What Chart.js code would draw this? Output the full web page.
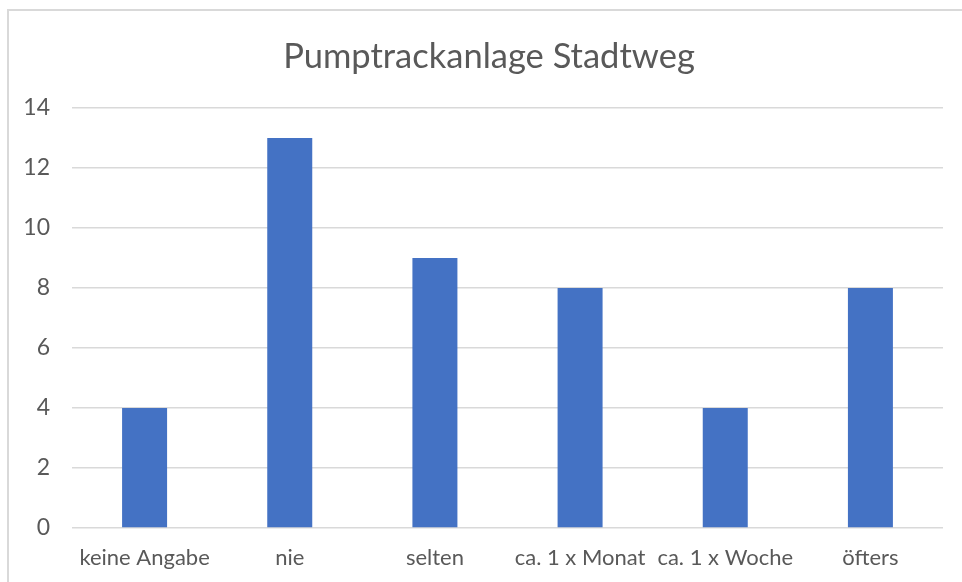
<!DOCTYPE html>
<html>
<head>
<meta charset="utf-8">
<script src="https://cdn.jsdelivr.net/npm/chart.js@4"></script>
<style>
    html, body { margin: 0; padding: 0; background: #fff; overflow: hidden; }
    #wrap { position: relative; width: 962px; height: 582px; overflow: hidden; }
    #frame {
        position: absolute; left: 7px; top: 9px; width: 1000px; height: 700px;
        border: 2px solid #d9d9d9; box-sizing: border-box;
    }
    canvas { position: absolute; left: 0; top: 0; }
</style>
</head>
<body>
<div id="wrap">
    <div id="frame"></div>
    <canvas id="barChart" width="962" height="582"></canvas>
</div>
<script>
// Chart data
const chartTitle = 'Pumptrackanlage Stadtweg';
const categories = ['keine Angabe', 'nie', 'selten', 'ca. 1 x Monat', 'ca. 1 x Woche', 'öfters'];
const counts = [4, 13, 9, 8, 4, 8];
const yTicks = [0, 2, 4, 6, 8, 10, 12, 14];

const textColor = '#595959';
const gridColor = '#d9d9d9';
const barColor = '#4472C4';
const fontFamily = 'Lato, "Open Sans", sans-serif';

// The original title is centred on the whole (wider) chart box, not the canvas
const titleShift = {
    id: 'titleShift',
    afterLayout(chart) {
        if (chart.titleBlock) chart.titleBlock.left += 35;
    }
};

document.addEventListener('DOMContentLoaded', () => {
    const ctx = document.getElementById('barChart').getContext('2d');

    new Chart(ctx, {
        type: 'bar',
        data: {
            labels: categories,
            datasets: [{
                data: counts,
                backgroundColor: barColor,
                barPercentage: 0.62,
                categoryPercentage: 0.5
            }]
        },
        plugins: [titleShift],
        options: {
            responsive: false,
            animation: false,
            devicePixelRatio: 1,
            layout: { padding: { left: 0, right: 19, top: 0, bottom: 0 } },
            plugins: {
                legend: { display: false },
                tooltip: { enabled: false },
                title: {
                    display: true,
                    text: chartTitle,
                    color: textColor,
                    font: { family: fontFamily, size: 34.5, weight: 'normal' },
                    padding: { top: 36, bottom: 30.6 }
                }
            },
            scales: {
                x: {
                    grid: { display: false, drawTicks: false },
                    border: { display: false },
                    ticks: {
                        color: textColor,
                        font: { family: fontFamily, size: 22 },
                        padding: 17,
                        maxRotation: 0,
                        autoSkip: false
                    },
                    afterFit: (scale) => { scale.height = 54; }
                },
                y: {
                    min: yTicks[0],
                    max: yTicks[yTicks.length - 1],
                    afterBuildTicks: (scale) => {
                        scale.ticks = yTicks.map(v => ({ value: v }));
                    },
                    grid: { color: gridColor, lineWidth: 1.5, drawTicks: false },
                    border: { display: false },
                    ticks: {
                        color: textColor,
                        font: { family: fontFamily, size: 23 },
                        padding: 22
                    },
                    afterFit: (scale) => { scale.width = 72; }
                }
            }
        }
    });
});
</script>
</body>
</html>
